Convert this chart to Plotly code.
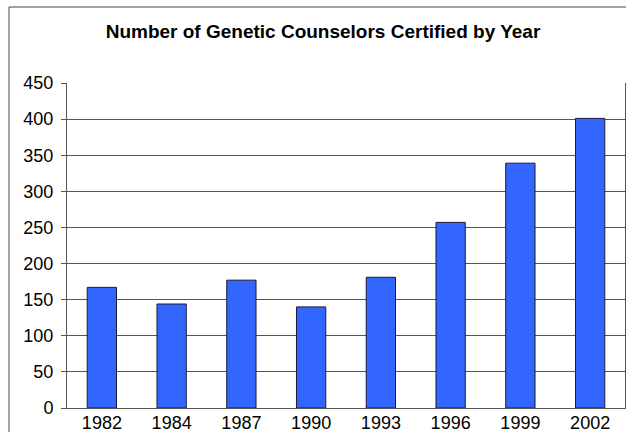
import plotly.graph_objects as go

years = ["1982", "1984", "1987", "1990", "1993", "1996", "1999", "2002"]
counselors = [167, 144, 177, 140, 181, 257, 339, 401]
y_ticks = [0, 50, 100, 150, 200, 250, 300, 350, 400, 450]
title_text = "Number of Genetic Counselors Certified by Year"

fig = go.Figure(
    go.Bar(
        x=years,
        y=counselors,
        marker=dict(color="#3366FF", line=dict(color="#1a1a3a", width=1)),
        width=0.42,
        hoverinfo="x+y",
    )
)

fig.update_layout(
    width=626,
    height=432,
    margin=dict(l=67, r=1, t=83, b=24, autoexpand=False),
    paper_bgcolor="white",
    plot_bgcolor="white",
    font=dict(family="Liberation Sans, Arial, sans-serif", color="black"),
    title=dict(
        text="<b>" + title_text + "</b>",
        font=dict(size=19, color="black"),
        x=323 / 626,
        xanchor="center",
        y=1 - 31 / 432,
        yanchor="middle",
    ),
    showlegend=False,
    bargap=0.58,
)

fig.update_yaxes(
    range=[0, 450],
    tickvals=y_ticks,
    tickfont=dict(size=18),
    showgrid=True,
    gridcolor="#555555",
    gridwidth=1,
    ticks="outside",
    ticklen=5,
    tickcolor="#555555",
    showline=True,
    linecolor="#555555",
    linewidth=1,
    mirror=True,
    zeroline=False,
    ticklabelstandoff=4,
    automargin=False,
)

fig.update_xaxes(
    tickfont=dict(size=18),
    showline=True,
    linecolor="#555555",
    linewidth=1,
    ticks="",
    showgrid=False,
    ticklabelstandoff=-2,
    automargin=False,
)

# outer chart frame
fig.add_shape(
    type="rect",
    xref="paper",
    yref="paper",
    x0=(9 - 67) / 558,
    x1=1.2,
    y0=-0.3,
    y1=(408 - 7) / 325,
    line=dict(color="#444444", width=1),
    layer="below",
)

fig.write_html(
    "out.html",
    config={"displayModeBar": False},
    post_script="document.body.style.margin='0';document.body.style.overflow='hidden';",
)
